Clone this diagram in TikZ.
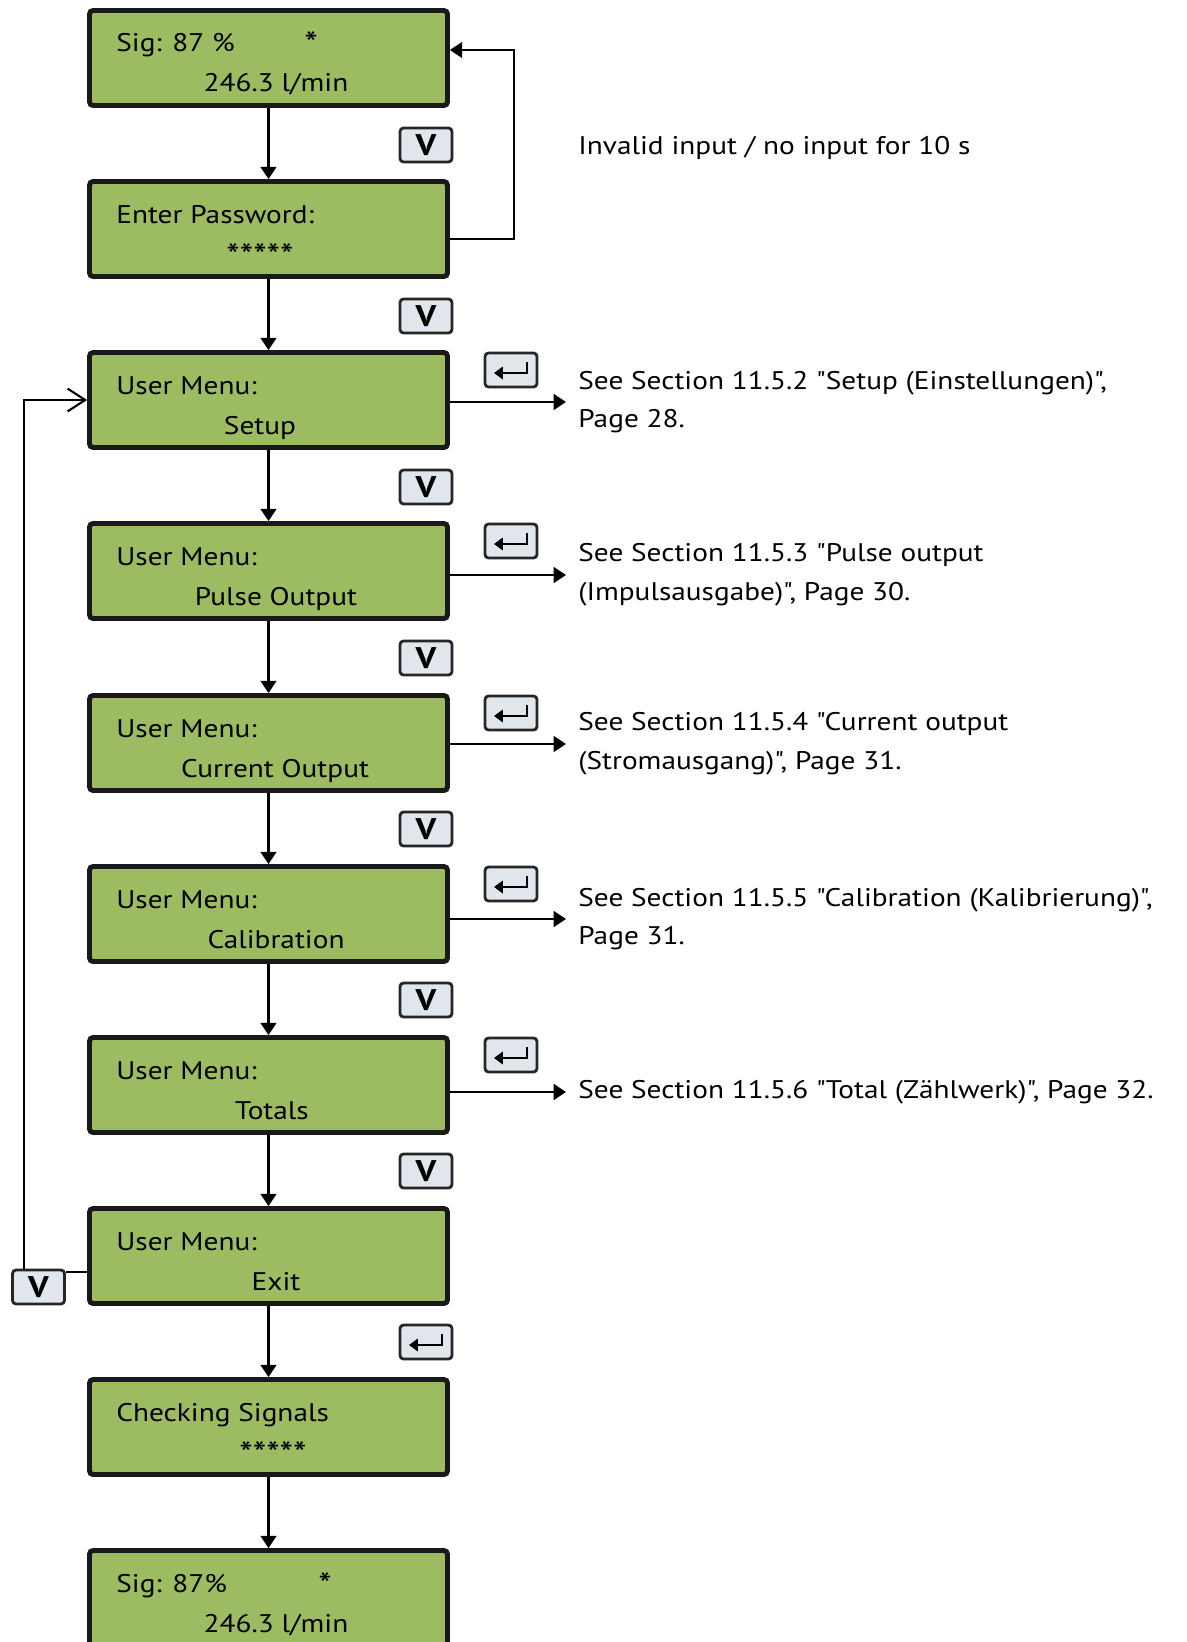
\documentclass[tikz,border=0pt]{standalone}
\usepackage{fontspec}
\setmainfont{PT Sans}[Ligatures=TeXOff, FakeStretch=1.15]
\usetikzlibrary{arrows.meta}
\definecolor{lcdgreen}{HTML}{9DBB61}
\definecolor{keygray}{HTML}{E1E5EC}

\begin{document}
\begin{tikzpicture}[x=0.02cm, y=-0.02cm,
    lcd/.style={draw=black!90, fill=lcdgreen, line width=2.8pt, rounded corners=2pt,
        minimum width=7.16cm, minimum height=1.9cm},
    keybox/.style={draw=black!85, fill=keygray, line width=1.6pt, rounded corners=2pt,
        minimum width=1.04cm, minimum height=0.68cm, inner sep=0pt,
        font=\fontsize{17}{17}\selectfont\bfseries},
    txt/.style={inner sep=0pt, font=\fontsize{14.5}{22}\selectfont},
    stars/.style={inner sep=0pt, font=\fontsize{19}{22}\selectfont},
    note/.style={anchor=west, align=left, inner ysep=0pt, inner xsep=0.24cm,
        font=\fontsize{14.5}{22}\selectfont},
    flow/.style={line width=1.2pt, -{Triangle[length=7pt,width=9pt]}}]
\useasboundingbox (0,0) rectangle (1186,1642);
% Displays
\node[lcd] (sig) at (268.5,58) {};
\node[lcd] (pwd) at (268.5,229) {};
\node[lcd] (setup) at (268.5,400) {};
\node[lcd] (pulse) at (268.5,571) {};
\node[lcd] (current) at (268.5,743) {};
\node[lcd] (calib) at (268.5,914) {};
\node[lcd] (totals) at (268.5,1085) {};
\node[lcd] (exit) at (268.5,1256) {};
\node[lcd] (check) at (268.5,1427) {};
\node[lcd] (sigb) at (268.5,1598) {};
% Display texts
\node[txt, anchor=base west] (sigA) at (116,52) {Sig: 87 \%};
\node[stars, anchor=base] (sigS) at (311,56) {*};
\node[txt, anchor=base] (sigB) at (276,92) {246.3 l/min};
\node[txt, anchor=base west] (pwdA) at (116,223) {Enter Password:};
\node[stars, anchor=base] (pwdB) at (260,267) {*****};
\node[txt, anchor=base west] (setupA) at (116,394) {User Menu:};
\node[txt, anchor=base] (setupB) at (260,434) {Setup};
\node[txt, anchor=base west] (pulseA) at (116,565) {User Menu:};
\node[txt, anchor=base] (pulseB) at (276,605) {Pulse Output};
\node[txt, anchor=base west] (currentA) at (116,737) {User Menu:};
\node[txt, anchor=base] (currentB) at (275,777) {Current Output};
\node[txt, anchor=base west] (calibA) at (116,908) {User Menu:};
\node[txt, anchor=base] (calibB) at (276,948) {Calibration};
\node[txt, anchor=base west] (totalsA) at (116,1079) {User Menu:};
\node[txt, anchor=base] (totalsB) at (272,1119) {Totals};
\node[txt, anchor=base west] (exitA) at (116,1250) {User Menu:};
\node[txt, anchor=base] (exitB) at (276,1290) {Exit};
\node[txt, anchor=base west] (checkA) at (116,1421) {Checking Signals};
\node[stars, anchor=base] (checkB) at (273,1465) {*****};
\node[txt, anchor=base west] (sigbA) at (116,1592) {Sig: 87\%};
\node[stars, anchor=base] (sigbS) at (325,1596) {*};
\node[txt, anchor=base] (sigbB) at (276,1632) {246.3 l/min};
% Keys
\node[keybox] (v1) at (426,145) {V};
\node[keybox] (v2) at (426,316) {V};
\node[keybox] (v3) at (426,487) {V};
\node[keybox] (v4) at (426,658) {V};
\node[keybox] (v5) at (426,829) {V};
\node[keybox] (v6) at (426,1000) {V};
\node[keybox] (v7) at (426,1171) {V};
\node[keybox] (vl) at (38.5,1287) {V};
\node[keybox] (r3) at (511,370) {};
\node[keybox] (r4) at (511,541) {};
\node[keybox] (r5) at (511,713) {};
\node[keybox] (r6) at (511,884) {};
\node[keybox] (r7) at (511,1055) {};
\node[keybox] (r8) at (426,1342) {};
\foreach \k in {r3,r4,r5,r6,r7,r8}
    \draw[line width=1.6pt, -{Triangle[length=5pt,width=7pt]}]
        ([shift={(16,-8)}]\k.center) -- ([shift={(16,3)}]\k.center) -- ([shift={(-17,3)}]\k.center);
% Notes
\node[txt, anchor=west] (inval) at (578,148) {Invalid input / no input for 10 s};
\node[note] (seeSetup) at (566,402) {See Section 11.5.2 "Setup (Einstellungen)",\\Page 28.};
\node[note] (seePulse) at (566,575) {See Section 11.5.3 "Pulse output\\(Impulsausgabe)", Page 30.};
\node[note] (seeCurrent) at (566,744) {See Section 11.5.4 "Current output\\(Stromausgang)", Page 31.};
\node[note] (seeCalib) at (566,919) {See Section 11.5.5 "Calibration (Kalibrierung)",\\Page 31.};
\node[note] (seeTotals) at (566,1092) {See Section 11.5.6 "Total (Zählwerk)", Page 32.};
% Edges
\draw[flow] (sig) -- (pwd);
\draw[flow] (pwd) -- (setup);
\draw[flow] (setup) -- (pulse);
\draw[flow] (pulse) -- (current);
\draw[flow] (current) -- (calib);
\draw[flow] (calib) -- (totals);
\draw[flow] (totals) -- (exit);
\draw[flow] (exit) -- (check);
\draw[flow] (check) -- (sigb);
\draw[flow] (setup.east |- seeSetup.west) -- (seeSetup.west);
\draw[flow] (pulse.east |- seePulse.west) -- (seePulse.west);
\draw[flow] (current.east |- seeCurrent.west) -- (seeCurrent.west);
\draw[flow] (calib.east |- seeCalib.west) -- (seeCalib.west);
\draw[flow] (totals.east |- seeTotals.west) -- (seeTotals.west);
\draw[flow] ([shift={(0,10)}]pwd.east) -- ++(64,0) |- ([shift={(0,-8)}]sig.east);
\draw[line width=1.2pt] ([shift={(0,16)}]exit.west) -- ([shift={(0,-15)}]vl.east);
\draw[line width=1.2pt, -{Straight Barb[length=10pt,width=13pt]}]
    ([shift={(-14.5,0)}]vl.north) |- (setup.west);
\end{tikzpicture}
\end{document}
